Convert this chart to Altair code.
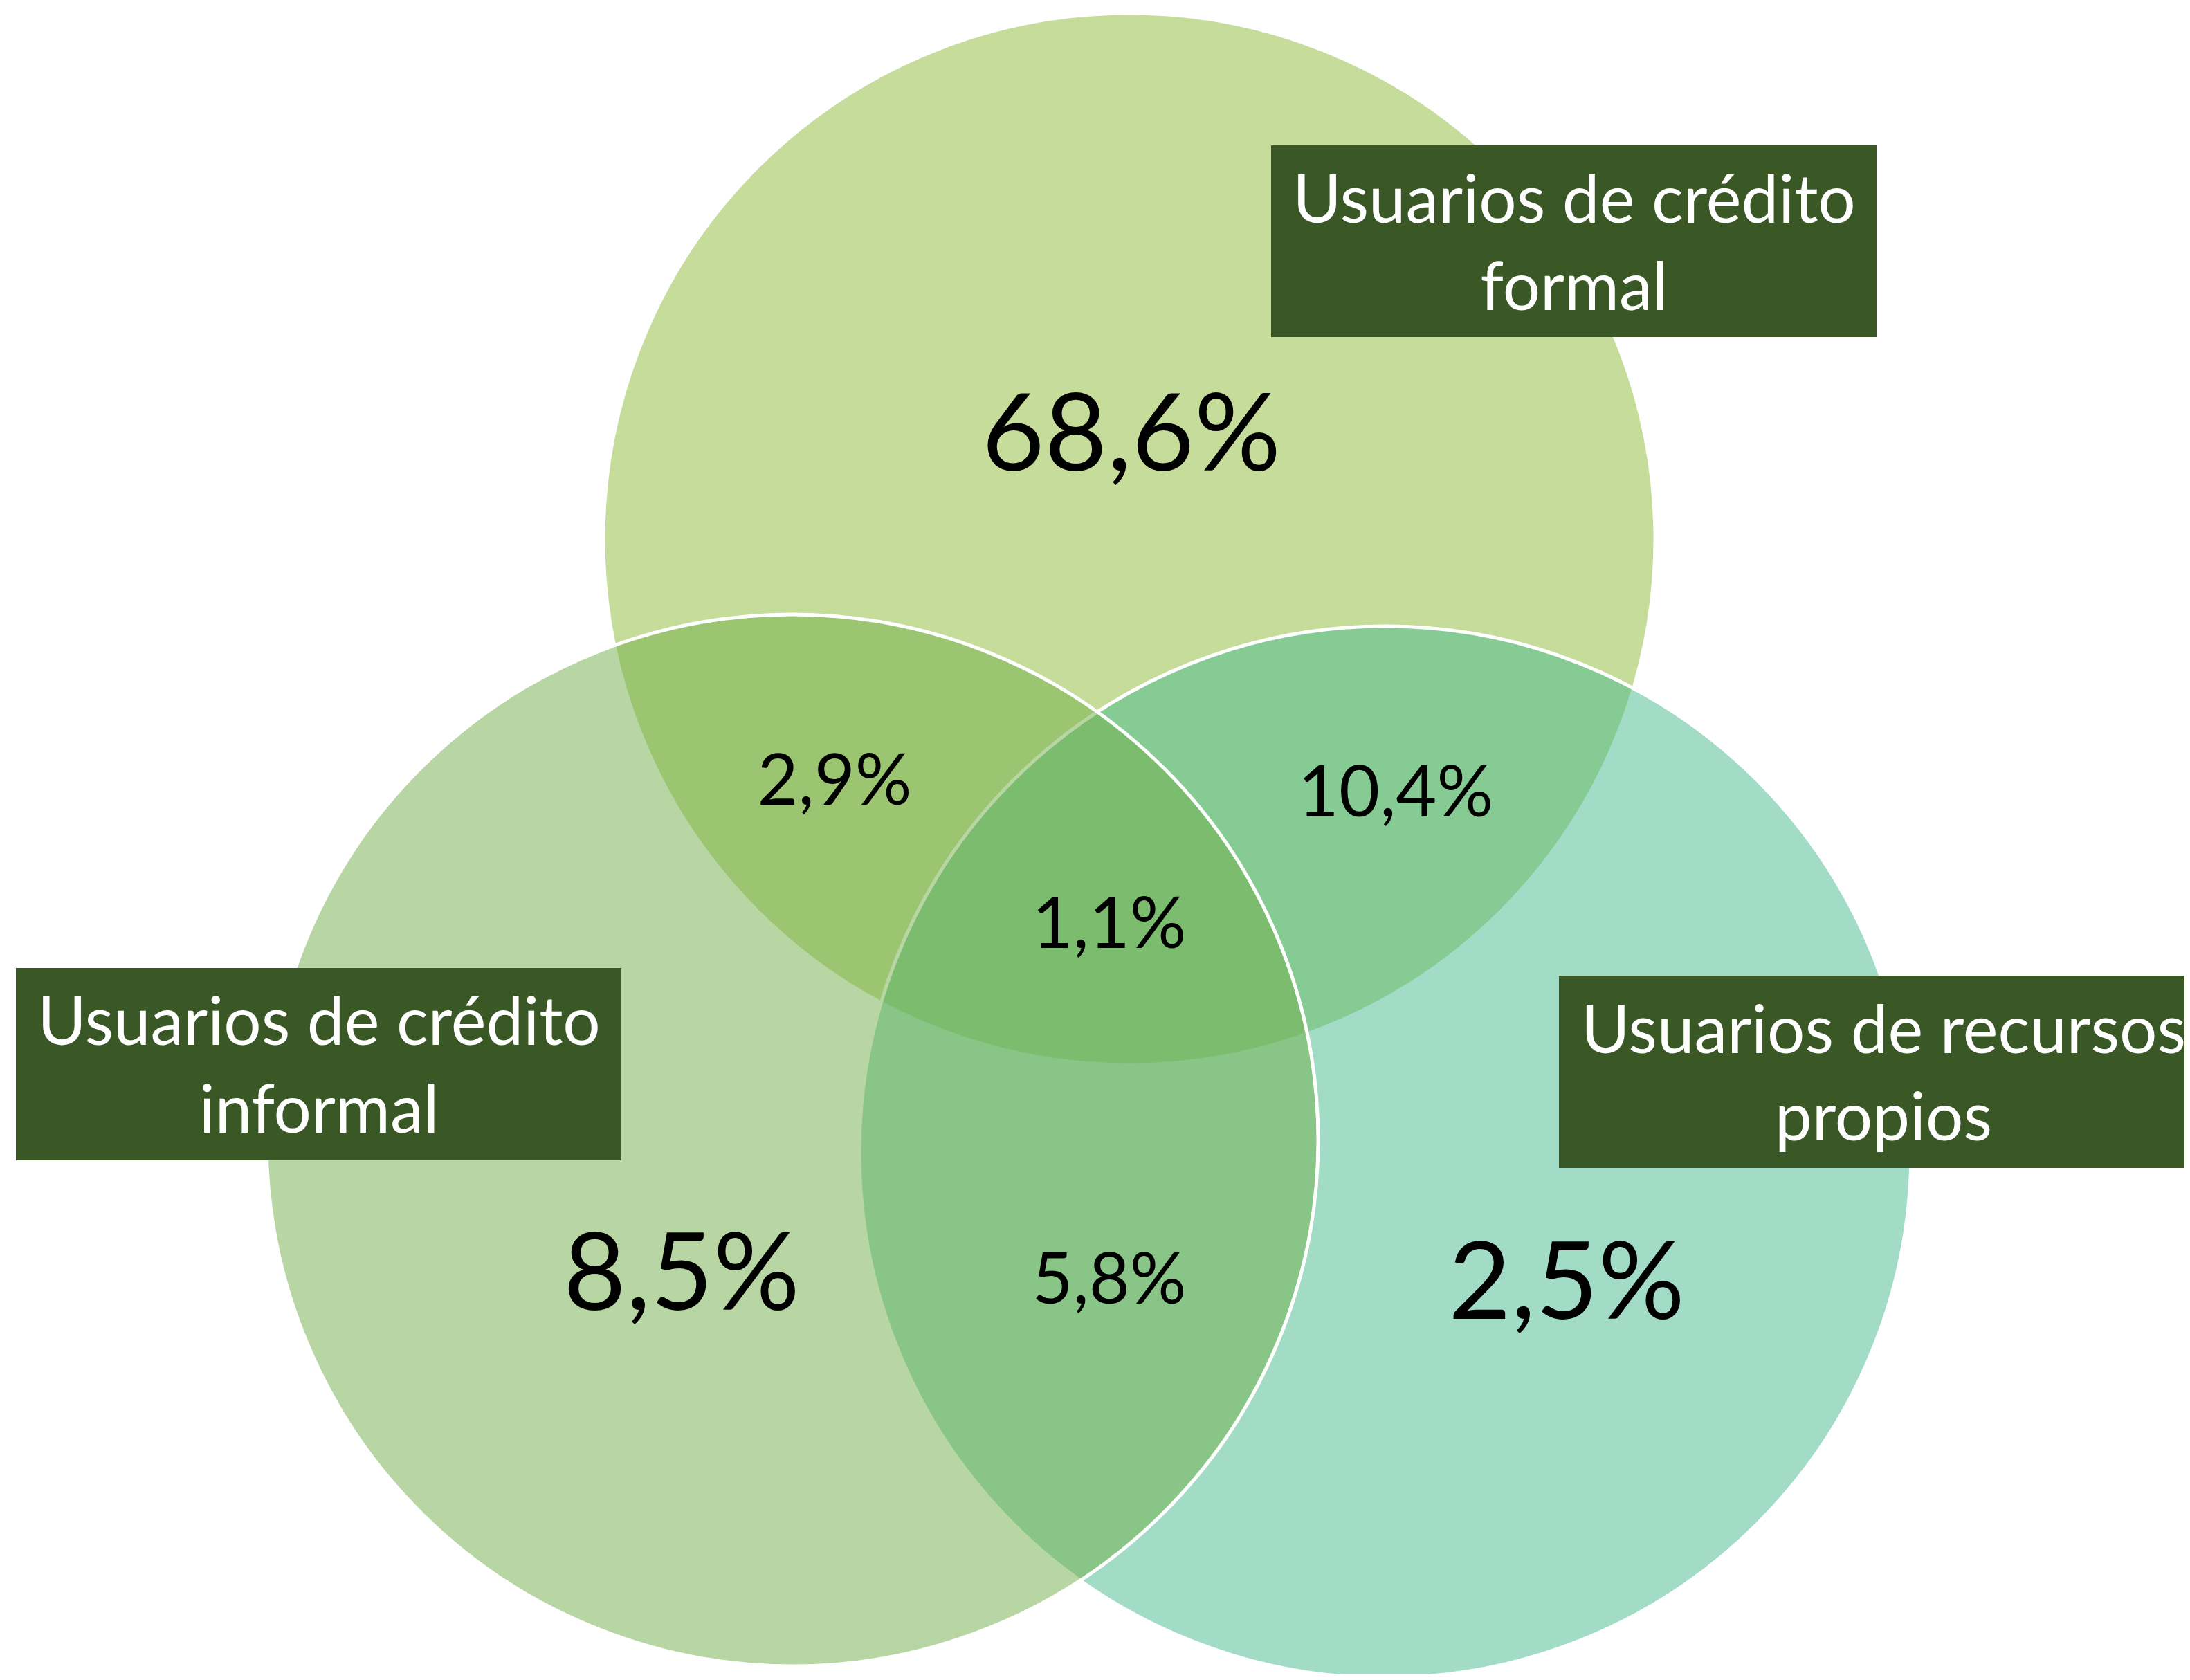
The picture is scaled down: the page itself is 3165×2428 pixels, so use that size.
import altair as alt
import pandas as pd

# ---- data ----
set_names = ["Usuarios de crédito formal", "Usuarios de recursos propios", "Usuarios de crédito informal"]
set_colors = ["#8DB937", "#45B98D", "#70AD47"]
set_cx = [1632, 2002, 1145]
set_cy = [779, 1665, 1648]
set_radius = [760, 760, 760]

region_values = ["68,6%", "8,5%", "2,5%", "2,9%", "10,4%", "1,1%", "5,8%"]
region_x = [1635, 985, 2264, 1206, 2017, 1603, 1603]
region_y = [680, 1893, 1906, 1163, 1180, 1370, 1884]
region_size = [156, 156, 156, 102, 102, 102, 102]

box_x1 = [1837, 23, 2253]
box_x2 = [2712, 898, 3165]
box_y1 = [210, 1399, 1410]
box_y2 = [487, 1677, 1688]

label_lines = ["Usuarios de crédito", "formal", "Usuarios de crédito", "informal",
               "Usuarios de recursos", "propios"]
label_x = [2275, 2275, 461, 461, 2722, 2722]
label_y = [322, 448, 1510, 1637, 1522, 1648]

W, H = 3149, 2412
xs = alt.Scale(domain=[8, 8 + W], range=[0, W], nice=False, zero=False)
ys = alt.Scale(domain=[8, 8 + H], range=[0, H], nice=False, zero=False)
noax = None

# Vega circle symbol: size = (diameter)^2
circles = pd.DataFrame({
    "name": set_names, "color": set_colors, "cx": set_cx, "cy": set_cy,
    "area": [(2 * r) ** 2 for r in set_radius],
})
regions = pd.DataFrame({"v": region_values, "x": region_x, "y": region_y, "fs": region_size})
boxes = pd.DataFrame({"x1": box_x1, "x2": box_x2, "y1": box_y1, "y2": box_y2})
labels = pd.DataFrame({"t": label_lines, "x": label_x, "y": label_y})

layers = []
for i in range(3):
    c = circles.iloc[[i]]
    layers.append(
        alt.Chart(c).mark_circle(fillOpacity=0.5, strokeOpacity=1, stroke="white", strokeWidth=5, opacity=1)
        .encode(
            x=alt.X("cx:Q", scale=xs, axis=noax),
            y=alt.Y("cy:Q", scale=ys, axis=noax),
            size=alt.Size("area:Q", scale=None, legend=None),
            color=alt.Color("color:N", scale=None, legend=None),
        )
    )

box_layer = alt.Chart(boxes).mark_rect(color="#3A5726").encode(
    x=alt.X("x1:Q", scale=xs, axis=noax), x2="x2:Q",
    y=alt.Y("y1:Q", scale=ys, axis=noax), y2="y2:Q",
)

big = alt.Chart(regions).mark_text(font="Lato", color="black", align="center", baseline="alphabetic").encode(
    x=alt.X("x:Q", scale=xs, axis=noax),
    y=alt.Y("y:Q", scale=ys, axis=noax),
    text="v:N",
    size=alt.Size("fs:Q", scale=None, legend=None),
)

lab = alt.Chart(labels).mark_text(font="Lato", color="white", fontSize=96, align="center", baseline="alphabetic").encode(
    x=alt.X("x:Q", scale=xs, axis=noax),
    y=alt.Y("y:Q", scale=ys, axis=noax),
    text="t:N",
)

chart = alt.layer(*layers, box_layer, big, lab).properties(
    width=W, height=H, padding=0, background="white",
    autosize=alt.AutoSizeParams(type="none"),
).configure_view(strokeWidth=0, stroke="transparent")

chart.save("out.html", embed_options={"renderer": "svg", "actions": False})
